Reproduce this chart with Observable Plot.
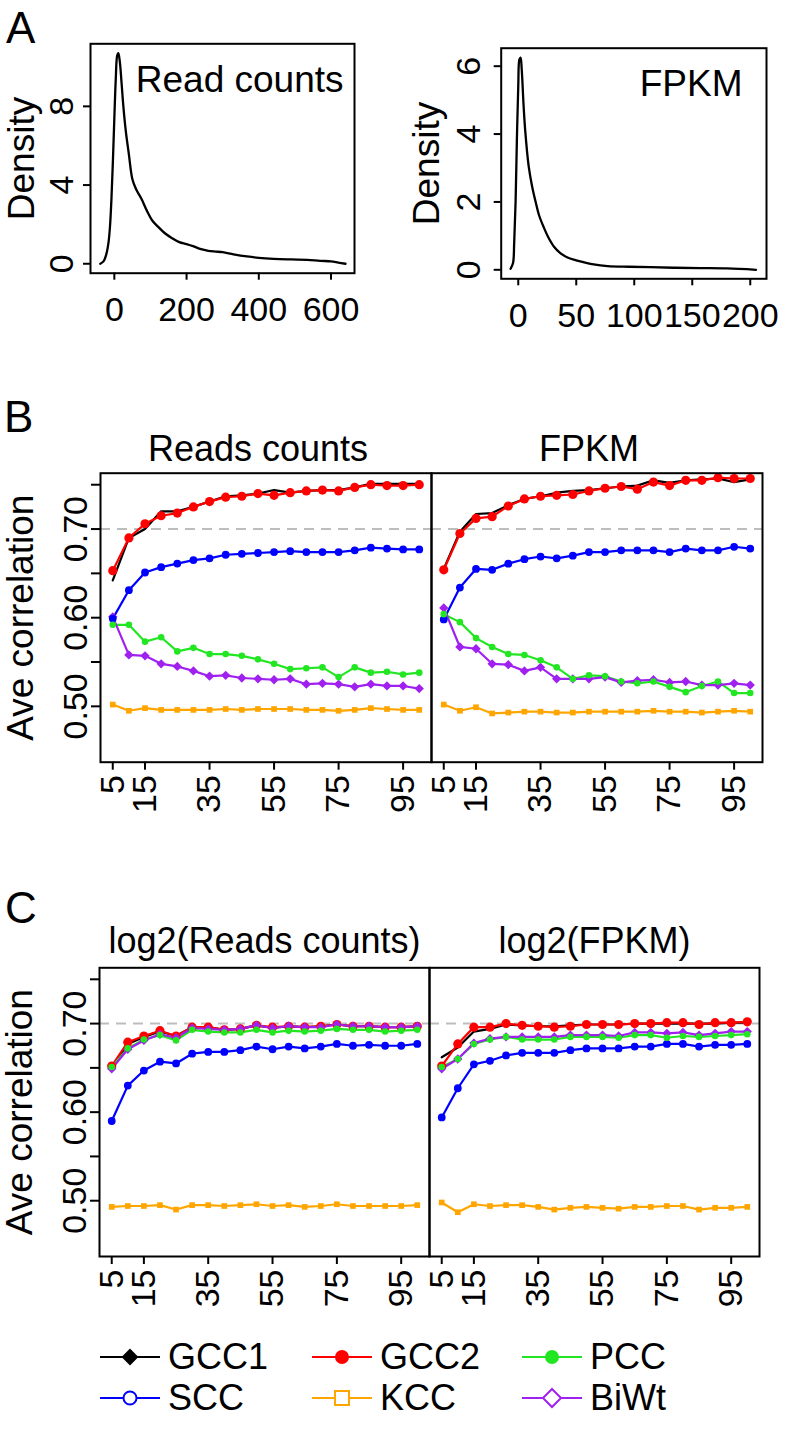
<!DOCTYPE html>
<html>
<head>
<meta charset="utf-8">
<script src="https://cdn.jsdelivr.net/npm/d3@7"></script>
<script src="https://cdn.jsdelivr.net/npm/@observablehq/plot@0.6"></script>
<style>
  html, body { margin: 0; padding: 0; background: white; }
  #page { position: relative; width: 797px; height: 1431px; background: white; font-family: "Liberation Sans", Arial, sans-serif; overflow: hidden; }
  .letter { position: absolute; font-size: 44px; color: #000; line-height: 1; }
  .leg { position: absolute; display: flex; align-items: center; font-size: 36px; color: #000; line-height: 1; }
</style>
</head>
<body>
<div id="page"></div>
<script>
// ---------------- DATA ----------------
// Panel A: density curves
const readsDensX = [-39, -30, -22, -16, -12, -8, -4, 0, 4, 8, 11, 15, 20, 25, 32, 40, 50, 60, 75, 90, 105, 120, 140, 160, 180, 200, 220, 240, 260, 280, 300, 330, 367, 400, 441, 490, 534, 570, 600, 620, 640];
const readsDensY = [0, 0.12, 0.5, 1.1, 1.9, 3.3, 5.2, 7.4, 9.4, 10.6, 10.7, 10.3, 9.2, 8.0, 6.7, 5.6, 4.3, 3.8, 3.3, 2.7, 2.2, 1.9, 1.55, 1.3, 1.1, 1.0, 0.88, 0.74, 0.66, 0.62, 0.59, 0.48, 0.37, 0.3, 0.25, 0.22, 0.2, 0.15, 0.12, 0.06, 0.0];
const fpkmDensX = [-6.6, -4.5, -3.5, -2.3, -1.2, 0, 1, 2, 3, 4.5, 6, 9, 12, 15, 18, 22, 26, 31, 36, 42, 50, 57, 65, 77, 95, 114, 135, 157, 180, 205];
const fpkmDensY = [0.03, 0.2, 0.8, 2.0, 3.8, 5.4, 6.2, 6.25, 5.9, 4.9, 4.1, 3.05, 2.45, 2.0, 1.6, 1.25, 0.95, 0.67, 0.5, 0.37, 0.28, 0.22, 0.16, 0.11, 0.09, 0.08, 0.06, 0.05, 0.04, 0.0];
const readsTicksX = [0, 200, 400, 600];
const readsTicksY = [0, 4, 8];
const fpkmTicksX = [0, 50, 100, 150, 200];
const fpkmTicksY = [0, 2, 4, 6];

// Panels B and C: average correlation vs. sample size
const sampleSizes = [5, 10, 15, 20, 25, 30, 35, 40, 45, 50, 55, 60, 65, 70, 75, 80, 85, 90, 95, 100];
const xTickValues = [5, 15, 35, 55, 75, 95];
const yTickValues = [0.50, 0.55, 0.60, 0.65, 0.70, 0.75];
const yTickLabels = ["0.50", "", "0.60", "", "0.70", ""];
const refLine = [0.70];
const seriesNames = ["GCC1", "GCC2", "PCC", "SCC", "KCC", "BiWt"];

const panelsB = ["Reads counts", "FPKM"];
const panelsC = ["log2(Reads counts)", "log2(FPKM)"];

// B: Reads counts
const bReads_GCC1 = [0.642, 0.690, 0.700, 0.720, 0.720, 0.725, 0.731, 0.737, 0.738, 0.740, 0.744, 0.741, 0.743, 0.744, 0.744, 0.747, 0.751, 0.751, 0.751, 0.751];
const bReads_GCC2 = [0.653, 0.690, 0.706, 0.715, 0.718, 0.725, 0.731, 0.736, 0.737, 0.740, 0.738, 0.741, 0.743, 0.744, 0.743, 0.747, 0.750, 0.749, 0.749, 0.750];
const bReads_PCC  = [0.592, 0.592, 0.573, 0.578, 0.562, 0.566, 0.559, 0.559, 0.557, 0.553, 0.548, 0.542, 0.543, 0.544, 0.533, 0.544, 0.538, 0.539, 0.536, 0.538];
const bReads_SCC  = [0.599, 0.631, 0.651, 0.657, 0.661, 0.665, 0.667, 0.671, 0.672, 0.673, 0.674, 0.675, 0.674, 0.674, 0.674, 0.676, 0.679, 0.678, 0.677, 0.677];
const bReads_KCC  = [0.502, 0.495, 0.498, 0.496, 0.496, 0.496, 0.496, 0.497, 0.496, 0.497, 0.497, 0.497, 0.496, 0.496, 0.495, 0.496, 0.498, 0.497, 0.496, 0.496];
const bReads_BiWt = [0.601, 0.558, 0.557, 0.548, 0.545, 0.540, 0.534, 0.535, 0.532, 0.531, 0.530, 0.531, 0.525, 0.526, 0.525, 0.522, 0.525, 0.523, 0.523, 0.520];
// B: FPKM
const bFpkm_GCC1 = [0.655, 0.697, 0.717, 0.718, 0.727, 0.734, 0.737, 0.741, 0.743, 0.744, 0.746, 0.748, 0.749, 0.755, 0.752, 0.755, 0.756, 0.757, 0.753, 0.756];
const bFpkm_GCC2 = [0.654, 0.695, 0.712, 0.714, 0.726, 0.734, 0.737, 0.738, 0.739, 0.743, 0.746, 0.748, 0.745, 0.753, 0.749, 0.755, 0.755, 0.758, 0.757, 0.757];
const bFpkm_PCC  = [0.604, 0.595, 0.577, 0.567, 0.559, 0.558, 0.552, 0.544, 0.531, 0.535, 0.534, 0.528, 0.526, 0.528, 0.522, 0.516, 0.523, 0.528, 0.515, 0.515];
const bFpkm_SCC  = [0.598, 0.634, 0.655, 0.654, 0.661, 0.666, 0.669, 0.667, 0.670, 0.674, 0.674, 0.676, 0.676, 0.676, 0.674, 0.678, 0.676, 0.676, 0.680, 0.678];
const bFpkm_KCC  = [0.502, 0.495, 0.499, 0.492, 0.493, 0.494, 0.494, 0.493, 0.493, 0.494, 0.494, 0.494, 0.494, 0.495, 0.494, 0.494, 0.493, 0.494, 0.495, 0.494];
const bFpkm_BiWt = [0.611, 0.567, 0.565, 0.548, 0.547, 0.540, 0.544, 0.531, 0.531, 0.531, 0.533, 0.527, 0.529, 0.530, 0.527, 0.528, 0.524, 0.524, 0.526, 0.524];
// C: log2(Reads counts)
const cReads_GCC1 = [0.650, 0.677, 0.685, 0.691, 0.686, 0.696, 0.696, 0.693, 0.694, 0.698, 0.695, 0.697, 0.696, 0.697, 0.699, 0.697, 0.697, 0.696, 0.696, 0.697];
const cReads_GCC2 = [0.652, 0.679, 0.686, 0.692, 0.686, 0.696, 0.696, 0.693, 0.694, 0.698, 0.696, 0.697, 0.696, 0.697, 0.699, 0.697, 0.697, 0.696, 0.696, 0.697];
const cReads_PCC  = [0.651, 0.672, 0.682, 0.687, 0.681, 0.693, 0.691, 0.690, 0.690, 0.693, 0.690, 0.692, 0.691, 0.692, 0.694, 0.693, 0.693, 0.691, 0.692, 0.693];
const cReads_SCC  = [0.590, 0.630, 0.647, 0.657, 0.655, 0.666, 0.668, 0.668, 0.670, 0.674, 0.671, 0.674, 0.672, 0.674, 0.677, 0.675, 0.676, 0.675, 0.675, 0.677];
const cReads_KCC  = [0.493, 0.494, 0.494, 0.495, 0.490, 0.495, 0.495, 0.494, 0.495, 0.496, 0.494, 0.495, 0.493, 0.494, 0.496, 0.494, 0.494, 0.494, 0.494, 0.495];
const cReads_BiWt = [0.649, 0.671, 0.681, 0.688, 0.684, 0.695, 0.694, 0.693, 0.694, 0.698, 0.695, 0.697, 0.696, 0.696, 0.699, 0.697, 0.697, 0.696, 0.696, 0.697];
// C: log2(FPKM)
const cFpkm_GCC1 = [0.662, 0.673, 0.691, 0.694, 0.699, 0.698, 0.697, 0.697, 0.698, 0.699, 0.699, 0.699, 0.700, 0.700, 0.700, 0.700, 0.700, 0.700, 0.701, 0.701];
const cFpkm_GCC2 = [0.652, 0.677, 0.696, 0.696, 0.700, 0.698, 0.697, 0.696, 0.697, 0.699, 0.699, 0.699, 0.700, 0.700, 0.701, 0.701, 0.699, 0.701, 0.701, 0.702];
const cFpkm_PCC  = [0.651, 0.660, 0.677, 0.682, 0.685, 0.682, 0.682, 0.682, 0.685, 0.685, 0.685, 0.684, 0.687, 0.687, 0.684, 0.686, 0.685, 0.686, 0.687, 0.688];
const cFpkm_SCC  = [0.594, 0.627, 0.654, 0.658, 0.664, 0.667, 0.667, 0.667, 0.670, 0.672, 0.672, 0.672, 0.674, 0.674, 0.677, 0.677, 0.674, 0.676, 0.676, 0.677];
const cFpkm_KCC  = [0.498, 0.487, 0.496, 0.494, 0.495, 0.495, 0.493, 0.490, 0.492, 0.493, 0.492, 0.491, 0.493, 0.493, 0.494, 0.494, 0.490, 0.492, 0.492, 0.493];
const cFpkm_BiWt = [0.649, 0.660, 0.678, 0.683, 0.685, 0.685, 0.685, 0.685, 0.687, 0.687, 0.687, 0.686, 0.690, 0.690, 0.689, 0.690, 0.687, 0.689, 0.691, 0.691];

// ---------------- STYLE ----------------
const seriesColors  = ["#000000", "#ff0000", "#22e622", "#0000ff", "#ffa500", "#a020f0"];
const seriesSymbols = ["diamond2", "circle", "circle", "circle", "square", "diamond2"];
const seriesRadius  = [0, 4.6, 3.3, 3.9, 3.2, 4.2];
const FONT = '"Liberation Sans", Arial, Helvetica, sans-serif';

// ---------------- BUILD TABLES ----------------
function buildRows(panels, perPanel) {
  const rows = [];
  panels.forEach((p, pi) => {
    perPanel[pi].forEach((vals, si) => {
      vals.forEach((v, k) => rows.push({panel: p, series: seriesNames[si], x: sampleSizes[k], y: v, r: seriesRadius[si]}));
    });
  });
  return rows;
}
const rowsB = buildRows(panelsB, [
  [bReads_GCC1, bReads_GCC2, bReads_PCC, bReads_SCC, bReads_KCC, bReads_BiWt],
  [bFpkm_GCC1, bFpkm_GCC2, bFpkm_PCC, bFpkm_SCC, bFpkm_KCC, bFpkm_BiWt]
]);
const rowsC = buildRows(panelsC, [
  [cReads_GCC1, cReads_GCC2, cReads_PCC, cReads_SCC, cReads_KCC, cReads_BiWt],
  [cFpkm_GCC1, cFpkm_GCC2, cFpkm_PCC, cFpkm_SCC, cFpkm_KCC, cFpkm_BiWt]
]);
const densReads = readsDensX.map((x, i) => ({x, y: readsDensY[i]}));
const densFpkm = fpkmDensX.map((x, i) => ({x, y: fpkmDensY[i]}));

const page = document.getElementById("page");
function place(node, left, top) {
  node.style.position = "absolute";
  node.style.left = left + "px";
  node.style.top = top + "px";
  page.append(node);
  return node;
}

// ---------------- PANEL A ----------------
function densityPlot(data, ticksX, ticksY, opts) {
  return Plot.plot({
    width: opts.width, height: opts.height,
    marginLeft: opts.ml, marginRight: opts.mr, marginTop: opts.mt, marginBottom: opts.mb,
    x: {domain: opts.xd}, y: {domain: opts.yd},
    style: {fontFamily: FONT, background: "transparent", color: "#000", overflow: "visible"},
    marks: [
      Plot.frame({stroke: "#000", strokeWidth: 2}),
      Plot.line(data, {x: "x", y: "y", stroke: "#000", strokeWidth: 2.3, curve: "catmull-rom"}),
      Plot.axisX({ticks: ticksX, tickFormat: d => String(d), tickSize: 7, tickPadding: 17, fontSize: 34, strokeWidth: 2, label: null}),
      Plot.axisY({ticks: ticksY, tickFormat: d => String(d), tickRotate: -90, tickSize: 7, tickPadding: opts.typ, fontSize: 34, strokeWidth: 2, label: null}),
      Plot.axisY({ticks: [], label: "Density", labelArrow: "none", labelAnchor: "center", labelOffset: opts.lo, fontSize: 37, tickSize: 0}),
      Plot.text([opts.title], {frameAnchor: "top-right", dx: opts.tdx, dy: 22, lineAnchor: "top", textAnchor: "end", fontSize: 37, fill: "#000"})
    ]
  });
}
place(densityPlot(densReads, readsTicksX, readsTicksY, {
  width: 400, height: 345, ml: 90, mr: 46, mt: 43.3, mb: 72.3,
  xd: [-66, 665], yd: [-0.48, 11.18], typ: 11, lo: 83, title: "Read counts", tdx: -11
}), 0, 0);
place(densityPlot(densFpkm, fpkmTicksX, fpkmTicksY, {
  width: 397, height: 345, ml: 100.7, mr: 31, mt: 47.7, mb: 66.7,
  xd: [-14.7, 214], yd: [-0.265, 6.53], typ: 14, lo: 88, title: "FPKM", tdx: -24
}), 400, 0);

// ---------------- PANELS B & C ----------------
function corrPlot(rows, panels, opts) {
  return Plot.plot({
    width: 797, height: opts.height,
    marginLeft: opts.ml, marginRight: opts.mr, marginTop: opts.mt, marginBottom: opts.mb,
    x: {domain: [1.2, 103.8]},
    y: {domain: [0.437, 0.763]},
    fx: {domain: panels, padding: 0},
    color: {domain: seriesNames, range: seriesColors},
    symbol: {domain: seriesNames, range: seriesSymbols},
    r: {type: "identity"},
    style: {fontFamily: FONT, background: "transparent", color: "#000", overflow: "visible"},
    marks: [
      Plot.ruleY(refLine, {stroke: "#bdbdbd", strokeWidth: 2, strokeDasharray: "10,7"}),
      Plot.lineY(rows, {fx: "panel", x: "x", y: "y", z: "series", stroke: "series", strokeWidth: 2.2}),
      Plot.dot(rows, {fx: "panel", x: "x", y: "y", fill: "series", symbol: "series", r: "r", stroke: "none"}),
      Plot.frame({stroke: "#000", strokeWidth: 2}),
      Plot.axisX({ticks: xTickValues, tickFormat: d => String(d), tickRotate: -90, tickSize: 8, tickPadding: 5, fontSize: 34, strokeWidth: 2, label: null}),
      Plot.axisY({ticks: yTickValues, tickFormat: d => yTickLabels[yTickValues.findIndex(t => Math.abs(t - d) < 1e-9)], tickRotate: -90, tickSize: 9, tickPadding: 5, fontSize: 34, strokeWidth: 2, label: null}),
      Plot.axisY({ticks: [], label: "Ave correlation", labelArrow: "none", labelAnchor: "center", labelOffset: 94, fontSize: 37, tickSize: 0}),
      Plot.axisFx({anchor: "top", tickSize: 0, tickPadding: opts.titlePad, dx: opts.titleDx, fontSize: 36, label: null})
    ]
  });
}
place(corrPlot(rowsB, panelsB, {height: 460, ml: 99.3, mr: 34.3, mt: 92.7, mb: 78.3, titlePad: 12.7, titleDx: -8}), 0, 380);
place(corrPlot(rowsC, panelsC, {height: 470, ml: 99, mr: 38, mt: 117.3, mb: 64, titlePad: 14.6, titleDx: 0}), 0, 850);

// ---------------- PANEL LETTERS ----------------
[["A", 6, 6], ["B", 4, 395], ["C", 5, 886]].forEach(([t, x, y]) => {
  const d = document.createElement("div");
  d.className = "letter";
  d.textContent = t;
  place(d, x, y);
});

// ---------------- LEGEND ----------------
const legendCols = [99, 311, 521];
const legendRows = [1339, 1380];
const legendOpen = [false, false, false, true, true, true];
seriesNames.forEach((name, i) => {
  const col = i % 3, row = Math.floor(i / 3);
  const d = document.createElement("div");
  d.className = "leg";
  const color = seriesColors[i];
  const open = legendOpen[i];
  const fill = open ? "white" : color;
  let sym;
  if (seriesSymbols[i] === "circle") sym = `<circle cx="31" cy="18" r="${open ? 6.5 : 6}" fill="${fill}" stroke="${color}" stroke-width="2"/>`;
  else if (seriesSymbols[i] === "square") sym = `<rect x="24" y="11" width="14" height="14" fill="${fill}" stroke="${color}" stroke-width="2"/>`;
  else sym = open ? `<path d="M31,9 L40,18 L31,27 L22,18 Z" fill="${fill}" stroke="${color}" stroke-width="2"/>`
                  : `<path d="M31,11 L38,18 L31,25 L24,18 Z" fill="${fill}" stroke="${color}" stroke-width="2"/>`;
  d.innerHTML = `<svg width="64" height="36" style="display:block"><line x1="1" y1="18" x2="61" y2="18" stroke="${color}" stroke-width="2.2"/>${sym}</svg><span style="margin-left:5px">${name}</span>`;
  place(d, legendCols[col], legendRows[row]);
});
</script>
</body>
</html>
